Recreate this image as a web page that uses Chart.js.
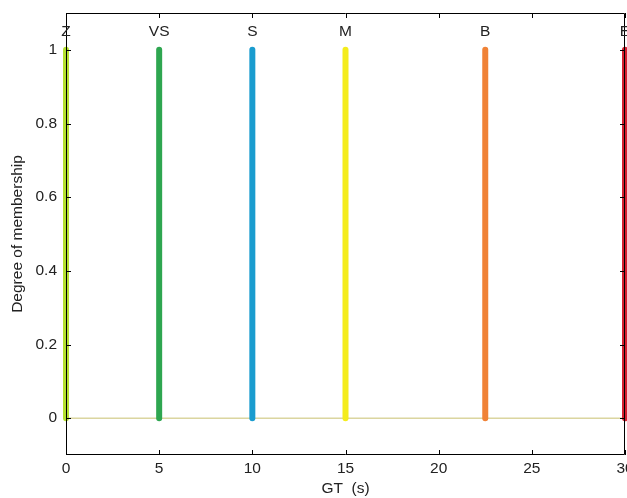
<!DOCTYPE html>
<html>
<head>
<meta charset="utf-8">
<script src="https://cdn.jsdelivr.net/npm/chart.js@4"></script>
<style>
  html, body { margin: 0; padding: 0; background: #fff; }
  #wrap { width: 627px; height: 498px; }
</style>
</head>
<body>
<div id="wrap"><canvas id="chart" width="627" height="498"></canvas></div>
<script>
'use strict';

// membership sets: name, position on GT axis, colour
const setNames = ['Z', 'VS', 'S', 'M', 'B', 'E'];
const setPositions = [0, 5, 10, 15, 22.5, 30];
const setColors = ['#b4e030', '#2ea650', '#1a9ccf', '#f4ec1c', '#f08236', '#d42030'];
const membershipLow = 0;
const membershipHigh = 1;
const baseLine = [[0, 0], [30, 0]];

const xTicks = [0, 5, 10, 15, 20, 25, 30];
const yTicks = [0, 0.2, 0.4, 0.6, 0.8, 1];

const font = { family: 'Liberation Sans, Arial, sans-serif', size: 15.5 };

const datasets = setNames.map((name, i) => ({
  label: name,
  data: [
    { x: setPositions[i], y: membershipLow },
    { x: setPositions[i], y: membershipHigh },
  ],
  borderColor: setColors[i],
  borderWidth: 6,
  borderCapStyle: 'round',
  pointRadius: 0,
  clip: false,
  order: 1,
}));

datasets.push({
  label: 'base',
  data: baseLine.map(p => ({ x: p[0], y: p[1] })),
  borderColor: '#c8c070',
  borderWidth: 1,
  pointRadius: 0,
  order: 2,
});

// MATLAB-like box, inward ticks and set names on top
const boxPlugin = {
  id: 'box',
  afterDraw(chart) {
    const { ctx, chartArea: a, scales } = chart;
    const xs = scales.x, ys = scales.y;
    ctx.save();
    ctx.strokeStyle = '#000';
    ctx.lineWidth = 1;
    ctx.beginPath();
    ctx.rect(a.left + 0.5, a.top + 0.5, a.right - a.left - 1, a.bottom - a.top - 1);
    const t = 5;
    xTicks.forEach(v => {
      const px = Math.round(xs.getPixelForValue(v)) + 0.5;
      ctx.moveTo(px, a.bottom); ctx.lineTo(px, a.bottom - t);
      ctx.moveTo(px, a.top); ctx.lineTo(px, a.top + t);
    });
    yTicks.forEach(v => {
      const py = Math.round(ys.getPixelForValue(v)) + 0.5;
      ctx.moveTo(a.left, py); ctx.lineTo(a.left + t, py);
      ctx.moveTo(a.right, py); ctx.lineTo(a.right - t, py);
    });
    ctx.stroke();

    ctx.fillStyle = '#222';
    ctx.font = `${font.size}px ${font.family}`;
    ctx.textAlign = 'center';
    ctx.textBaseline = 'middle';
    setNames.forEach((name, i) => {
      ctx.fillText(name, xs.getPixelForValue(setPositions[i]), ys.getPixelForValue(1.05));
    });
    ctx.restore();
  },
};

new Chart(document.getElementById('chart'), {
  type: 'line',
  data: { datasets },
  options: {
    responsive: false,
    animation: false,
    layout: { padding: { top: 13, right: 2, left: 0, bottom: 0 } },
    plugins: { legend: { display: false }, tooltip: { enabled: false } },
    scales: {
      x: {
        type: 'linear',
        min: 0,
        max: 30,
        afterBuildTicks: s => { s.ticks = xTicks.map(v => ({ value: v })); },
        afterFit: s => { s.height = 43; s.paddingRight = 0; s.paddingLeft = 0; },
        grid: { display: false, drawTicks: false },
        border: { display: false },
        ticks: { color: '#222', font, padding: 4, maxRotation: 0 },
        title: {
          display: true,
          text: 'GT  (s)',
          color: '#222',
          font,
          padding: { top: 0, bottom: 0 },
        },
      },
      y: {
        type: 'linear',
        min: -0.1,
        max: 1.1,
        afterBuildTicks: s => { s.ticks = yTicks.map(v => ({ value: v })); },
        afterFit: s => { s.width = 66; s.paddingTop = 0; s.paddingBottom = 0; },
        grid: { display: false, drawTicks: false },
        border: { display: false },
        ticks: { color: '#222', font, padding: 9, callback: v => String(v) },
        title: {
          display: true,
          text: 'Degree of membership',
          color: '#222',
          font,
          padding: { top: 8, bottom: 0 },
        },
      },
    },
  },
  plugins: [boxPlugin],
});
</script>
</body>
</html>
